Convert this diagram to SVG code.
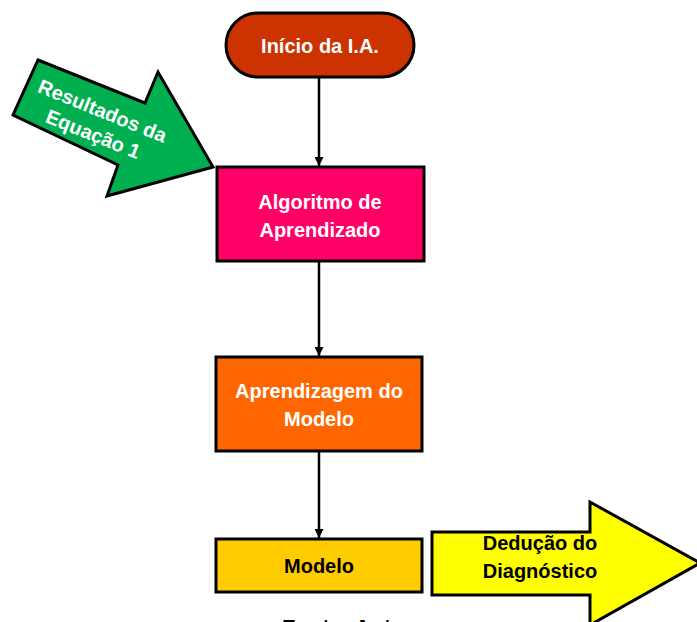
<svg xmlns="http://www.w3.org/2000/svg" width="697" height="622" viewBox="0 0 697 622">
<style>
.s{stroke:#000;stroke-width:3;}
.t{font-family:"Liberation Sans",Arial,sans-serif;font-weight:bold;font-size:20px;text-anchor:middle;}
.w{fill:#fff;}
.k{fill:#000;}
.c{stroke:#000;stroke-width:2.5;fill:none;}
</style>
<defs>
<marker id="ah" viewBox="0 0 10 10" refX="10" refY="5" markerWidth="10" markerHeight="9" markerUnits="userSpaceOnUse" orient="auto">
<path d="M0,0 L10,5 L0,10 z" fill="#000"/>
</marker>
</defs>
<rect width="697" height="622" fill="#fff"/>
<g id="connectors">
<line class="c" x1="319" y1="78" x2="319" y2="166" marker-end="url(#ah)"/>
<line class="c" x1="319" y1="262" x2="319" y2="356" marker-end="url(#ah)"/>
<line class="c" x1="319" y1="452" x2="319" y2="538" marker-end="url(#ah)"/>
</g>
<g id="inicio">
<rect class="s" x="226" y="13" width="188" height="64" rx="32" ry="32" fill="#CC3300"/>
<text class="t w" x="320" y="53">Início da I.A.</text>
</g>
<g id="resultados">
<polygon class="s" points="38,60 145,103 158,72 213,167 107,196 118,165 13,115" fill="#00B050"/>
<g transform="translate(98,122) rotate(22)">
<text class="t w" x="0" y="-5">Resultados da</text>
<text class="t w" x="0" y="20">Equação 1</text>
</g>
</g>
<g id="algoritmo">
<rect class="s" x="217" y="167" width="207" height="94" fill="#FF0066"/>
<text class="t w" x="320" y="209">Algoritmo de</text>
<text class="t w" x="320" y="237">Aprendizado</text>
</g>
<g id="aprendizagem">
<rect class="s" x="216" y="357" width="206" height="94" fill="#FF6600"/>
<text class="t w" x="319" y="398">Aprendizagem do</text>
<text class="t w" x="319" y="426">Modelo</text>
</g>
<g id="modelo">
<rect class="s" x="216" y="539" width="206" height="53" fill="#FFCC00"/>
<text class="t k" x="319" y="573">Modelo</text>
</g>
<g id="deducao">
<polygon class="s" points="432,532 590,532 590,502 700,563 590,625 590,595 432,595" fill="#FFFF00"/>
<text class="t k" x="540" y="550">Dedução do</text>
<text class="t k" x="540" y="578">Diagnóstico</text>
</g>
<text x="282" y="635" font-family="Liberation Sans, Arial, sans-serif" font-weight="bold" font-size="22" fill="#000">Fonte: Autor</text>
</svg>
